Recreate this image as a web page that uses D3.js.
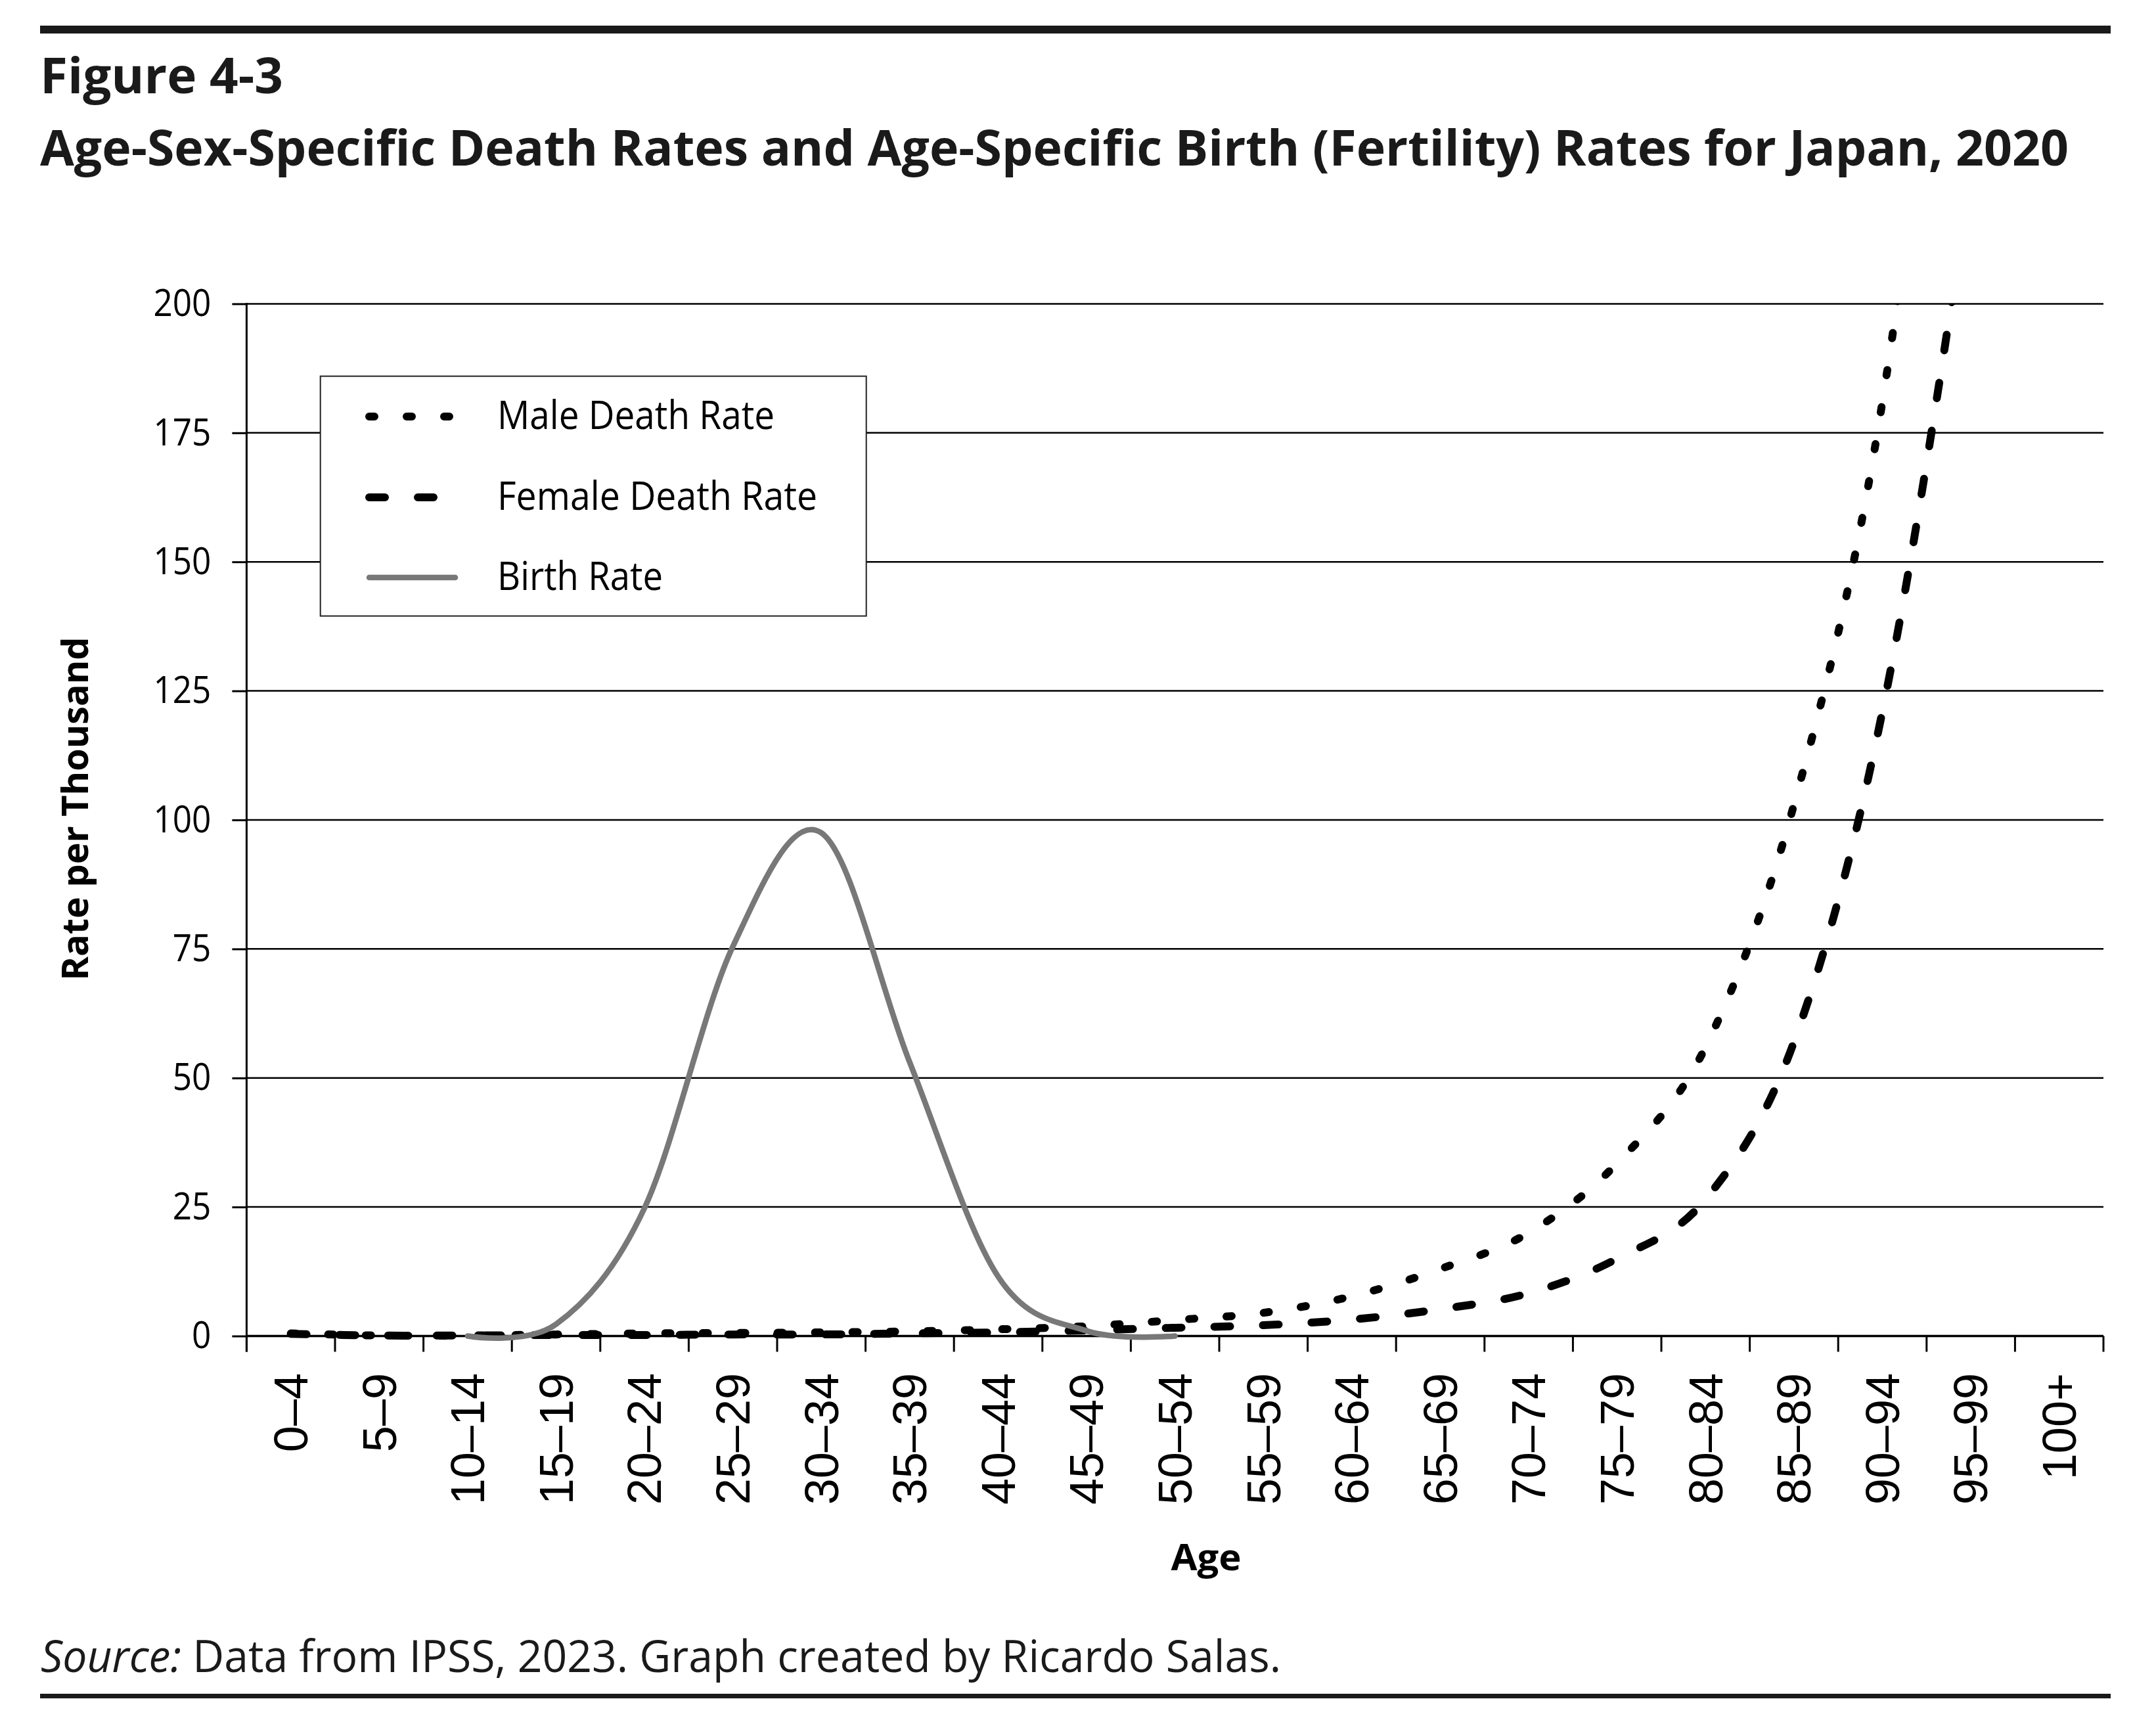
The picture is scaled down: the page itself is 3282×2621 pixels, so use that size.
<!DOCTYPE html>
<html>
<head>
<meta charset="utf-8">
<script src="https://cdn.jsdelivr.net/npm/d3@7"></script>
<style>
  body { margin: 0; background: #fff; }
  svg { display: block; }
</style>
</head>
<body>
<svg id="chart" width="3282" height="2621"></svg>
<script>
// values (rate per thousand)
const ageGroups = ["0–4", "5–9", "10–14", "15–19", "20–24", "25–29", "30–34", "35–39", "40–44", "45–49",
    "50–54", "55–59", "60–64", "65–69", "70–74", "75–79", "80–84", "85–89", "90–94", "95–99", "100+"]
const maleDeath = [0.5, 0.1, 0.1, 0.3, 0.5, 0.6, 0.7, 0.9, 1.3, 1.9, 3.1, 4.5, 7.7, 13.0, 20.0, 33.5, 56, 103, 181, 320, 500]
const femaleDeath = [0.4, 0.1, 0.1, 0.2, 0.2, 0.3, 0.3, 0.5, 0.7, 1.1, 1.6, 2.1, 3.2, 5.2, 8.3, 15.0, 26.5, 57, 121, 225, 350]
const birthAges = ["10–14", "15–19", "20–24", "25–29", "30–34", "35–39", "40–44", "45–49", "50–54"]
const birthRate = [0.0, 2.3, 24.8, 75.5, 97.5, 53, 11.5, 1.0, 0.0]
const yTicks = [0, 25, 50, 75, 100, 125, 150, 175, 200]
const legendLabels = ["Male Death Rate", "Female Death Rate", "Birth Rate"]

const svg = d3.select("#chart")
const ink = "#1a1a1a"

const plot = {left: 375.4, right: 3202, top: 462.4, bottom: 2033.5}

const x = d3.scaleBand().domain(ageGroups).range([plot.left, plot.right]).padding(0)
const xc = c => x(c) + x.bandwidth() / 2
const y = d3.scaleLinear().domain([0, 200]).range([plot.bottom, plot.top])

// rules + headings
svg.append("rect").attr("x", 61).attr("y", 39).attr("width", 3152).attr("height", 12).attr("fill", ink)
svg.append("rect").attr("x", 61).attr("y", 2578).attr("width", 3152).attr("height", 7).attr("fill", ink)

svg.append("text")
    .attr("x", 61).attr("y", 142)
    .attr("font-family", "'Open Sans', sans-serif").attr("font-weight", 700).attr("font-size", 76)
    .attr("fill", ink)
    .attr("textLength", 370).attr("lengthAdjust", "spacingAndGlyphs")
    .text("Figure 4-3")

svg.append("text")
    .attr("x", 61).attr("y", 252)
    .attr("font-family", "'Open Sans', sans-serif").attr("font-weight", 700).attr("font-size", 76)
    .attr("fill", ink)
    .attr("textLength", 3088).attr("lengthAdjust", "spacingAndGlyphs")
    .text("Age-Sex-Specific Death Rates and Age-Specific Birth (Fertility) Rates for Japan, 2020")

const src = svg.append("text")
    .attr("x", 62).attr("y", 2545)
    .attr("font-family", "'Open Sans', sans-serif").attr("font-size", 68)
    .attr("fill", ink)
    .attr("textLength", 1888).attr("lengthAdjust", "spacingAndGlyphs")
src.append("tspan").attr("font-style", "italic").text("Source:")
src.append("tspan").text(" Data from IPSS, 2023. Graph created by Ricardo Salas.")

// gridlines
svg.append("g").selectAll("line")
    .data(yTicks.filter(d => d > 0))
    .join("line")
    .attr("x1", plot.left).attr("x2", plot.right)
    .attr("y1", d => y(d)).attr("y2", d => y(d))
    .attr("stroke", "#000").attr("stroke-width", 2.5)

// legend
const lg = svg.append("g")
lg.append("rect")
    .attr("x", 487.7).attr("y", 572.6).attr("width", 831).attr("height", 365)
    .attr("fill", "#fff").attr("stroke", "#222").attr("stroke-width", 2)

const legendRows = [
    {y: 634, dash: "8 49", color: "#000", width: 12, x2: 690, len: 422},
    {y: 757, dash: "24 50", color: "#000", width: 12, x2: 660, len: 487},
    {y: 879, dash: null, color: "#787878", width: 8.5, x2: 693, len: 252}
]
legendRows.forEach((r, i) => {
    lg.append("line")
        .attr("x1", 562).attr("x2", r.x2).attr("y1", r.y).attr("y2", r.y)
        .attr("stroke", r.color).attr("stroke-width", r.width)
        .attr("stroke-linecap", "round")
        .attr("stroke-dasharray", r.dash)
    lg.append("text")
        .attr("x", 757).attr("y", r.y + 19)
        .attr("font-family", "'Open Sans', sans-serif").attr("font-size", 60)
        .attr("fill", "#000")
        .attr("textLength", r.len).attr("lengthAdjust", "spacingAndGlyphs")
        .text(legendLabels[i])
})

// y axis
const yAxis = svg.append("g")
    .attr("transform", `translate(${plot.left},0)`)
    .call(d3.axisLeft(y).tickValues(yTicks).tickSize(22).tickPadding(32).tickSizeOuter(0))
yAxis.select(".domain").remove()
yAxis.selectAll(".tick line").attr("stroke", "#000").attr("stroke-width", 3)
yAxis.selectAll(".tick text")
    .attr("font-family", "'Open Sans', sans-serif").attr("font-size", 57)
    .attr("fill", "#000")
    .each(function () {
        const w = this.getComputedTextLength()
        d3.select(this).attr("textLength", w * 0.9).attr("lengthAdjust", "spacingAndGlyphs")
    })

svg.append("line")
    .attr("x1", plot.left).attr("x2", plot.left)
    .attr("y1", plot.top - 1.5).attr("y2", plot.bottom + 24)
    .attr("stroke", "#000").attr("stroke-width", 3)

// x axis: ticks on band edges, labels on centres
svg.append("line")
    .attr("x1", plot.left).attr("x2", plot.right)
    .attr("y1", plot.bottom).attr("y2", plot.bottom)
    .attr("stroke", "#000").attr("stroke-width", 3.5)

const edges = ageGroups.map(c => x(c)).concat([plot.right])
svg.append("g").selectAll("line")
    .data(edges)
    .join("line")
    .attr("x1", d => d).attr("x2", d => d)
    .attr("y1", plot.bottom).attr("y2", plot.bottom + 24)
    .attr("stroke", "#000").attr("stroke-width", 3)

svg.append("g").selectAll("text")
    .data(ageGroups)
    .join("text")
    .attr("transform", d => `translate(${xc(d)},2090) rotate(-90)`)
    .attr("text-anchor", "end")
    .attr("dy", "0.35em")
    .attr("font-family", "'Liberation Sans', Arial, sans-serif").attr("font-size", 72)
    .attr("fill", "#000")
    .text(d => d)

// axis titles
svg.append("text")
    .attr("transform", "translate(134,1231) rotate(-90)")
    .attr("text-anchor", "middle")
    .attr("font-family", "'Open Sans', sans-serif").attr("font-weight", 700).attr("font-size", 56)
    .attr("fill", "#000")
    .attr("textLength", 523).attr("lengthAdjust", "spacingAndGlyphs")
    .text("Rate per Thousand")

svg.append("text")
    .attr("x", 1836).attr("y", 2390)
    .attr("text-anchor", "middle")
    .attr("font-family", "'Open Sans', sans-serif").attr("font-weight", 700).attr("font-size", 56)
    .attr("fill", "#000")
    .attr("textLength", 107).attr("lengthAdjust", "spacingAndGlyphs")
    .text("Age")

// series
svg.append("clipPath").attr("id", "plotClip")
    .append("rect")
    .attr("x", plot.left).attr("y", plot.top)
    .attr("width", plot.right - plot.left).attr("height", plot.bottom - plot.top + 40)

const smooth = d3.curveCardinal.tension(0)

const deathLine = d3.line()
    .x((d, i) => xc(ageGroups[i]))
    .y(d => y(d))
    .curve(smooth)

const birthLine = d3.line()
    .x((d, i) => xc(birthAges[i]))
    .y(d => y(d))
    .curve(smooth)

const series = svg.append("g").attr("clip-path", "url(#plotClip)")

series.append("path")
    .attr("d", deathLine(maleDeath))
    .attr("fill", "none").attr("stroke", "#000").attr("stroke-width", 12)
    .attr("stroke-linecap", "round").attr("stroke-dasharray", "8 49")

series.append("path")
    .attr("d", deathLine(femaleDeath))
    .attr("fill", "none").attr("stroke", "#000").attr("stroke-width", 12)
    .attr("stroke-linecap", "round").attr("stroke-dasharray", "24 50")

series.append("path")
    .attr("d", birthLine(birthRate))
    .attr("fill", "none").attr("stroke", "#787878").attr("stroke-width", 8.5)
    .attr("stroke-linecap", "round").attr("stroke-linejoin", "round")
</script>
</body>
</html>
